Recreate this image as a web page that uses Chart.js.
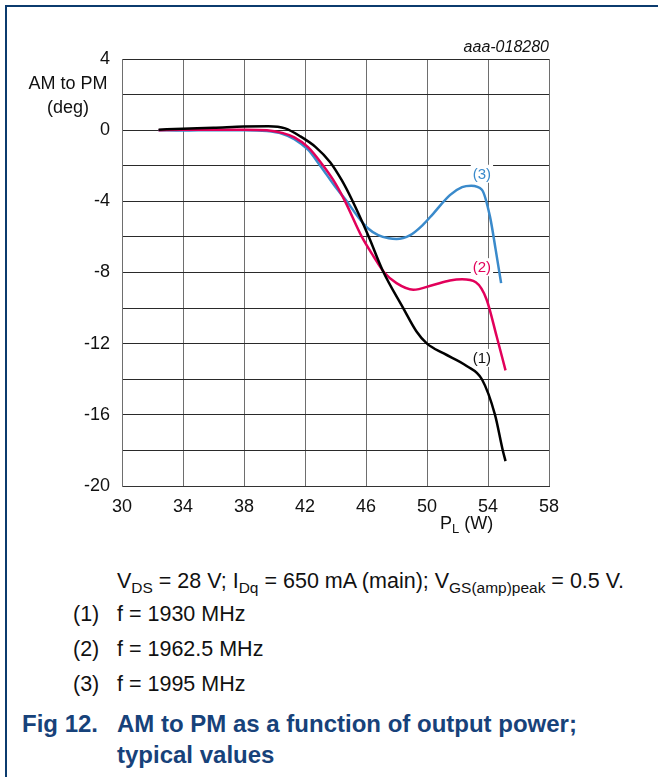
<!DOCTYPE html>
<html>
<head>
<meta charset="utf-8">
<script src="https://cdn.jsdelivr.net/npm/chart.js@4.4.0/dist/chart.umd.min.js"></script>
<style>
  body { margin: 0; background: #fff; font-family: "Liberation Sans", Arial, sans-serif; }
  #page { position: relative; width: 658px; height: 777px; overflow: hidden; }
  #frame { position: absolute; left: 5px; top: 5px; width: 660px; height: 780px; border-left: 2px solid #0b3b6e; border-top: 2px solid #0b3b6e; }
  #chart { position: absolute; left: 0; top: 0; }
  .txt { position: absolute; white-space: nowrap; color: #111; line-height: 1; }
  .sub { font-size: 0.72em; position: relative; top: 0.3em; }
  .cap { font-size: 21.5px; }
  .fig { font-size: 24px; font-weight: bold; color: #17427a; }
</style>
</head>
<body>
<div id="page">
  <div id="frame"></div>
  <canvas id="chart" width="658" height="540"></canvas>
  <div class="txt" style="left:28px; top:74px; width:80px; text-align:center; font-size:18px;">AM to PM</div>
  <div class="txt" style="left:28px; top:98px; width:80px; text-align:center; font-size:18px;">(deg)</div>
  <div class="txt" style="right:109px; top:39px; font-size:16px; font-style:italic;">aaa-018280</div>
  <div class="txt" style="left:440px; top:514px; font-size:18px;">P<span class="sub">L</span> (W)</div>

  <div class="txt cap" style="left:117px; top:571px;">V<span class="sub">DS</span> = 28 V; I<span class="sub">Dq</span> = 650 mA (main); V<span class="sub">GS(amp)peak</span> = 0.5 V.</div>
  <div class="txt cap" style="left:73px; top:604px;">(1)</div>
  <div class="txt cap" style="left:117px; top:604px;">f = 1930 MHz</div>
  <div class="txt cap" style="left:73px; top:639px;">(2)</div>
  <div class="txt cap" style="left:117px; top:639px;">f = 1962.5 MHz</div>
  <div class="txt cap" style="left:73px; top:674px;">(3)</div>
  <div class="txt cap" style="left:117px; top:674px;">f = 1995 MHz</div>
  <div class="txt fig" style="left:22px; top:712px;">Fig 12.</div>
  <div class="txt fig" style="left:117px; top:712px;">AM to PM as a function of output power;</div>
  <div class="txt fig" style="left:117px; top:743px;">typical values</div>
</div>
<script>
// curve (1) f = 1930 MHz
const x1 = [32.4, 34, 36, 38, 39.6, 40.7, 41.7, 42.7, 43.65, 44.4, 45.07, 46.16, 47.1, 48.44, 49.3, 50.0, 51.1, 52.6, 53.6, 54.46, 54.97, 55.15];
const y1 = [0.03, 0.08, 0.13, 0.2, 0.22, 0.1, -0.35, -0.95, -1.8, -2.8, -3.9, -5.95, -7.9, -10.0, -11.3, -12.0, -12.55, -13.25, -14.0, -16.0, -18.0, -18.6];
// curve (2) f = 1962.5 MHz
const x2 = [32.4, 34, 36, 38, 39.5, 40.5, 41.3, 42.2, 43.2, 44.0, 44.63, 45.73, 46.5, 47.2, 48.0, 49.1, 50.4, 51.5, 52.3, 53.2, 53.9, 54.57, 55.15];
const y2 = [0, 0.02, 0.02, 0.03, 0, -0.15, -0.4, -0.95, -2.0, -3.0, -4.0, -6.0, -7.1, -8.0, -8.6, -8.97, -8.7, -8.45, -8.38, -8.55, -9.5, -11.6, -13.5];
// curve (3) f = 1995 MHz
const x3 = [32.4, 34, 36, 38, 39.5, 40.5, 41.3, 42.2, 43.0, 44.0, 44.74, 45.5, 46.1, 46.8, 47.5, 48.0, 48.9, 49.7, 50.4, 51.5, 52.3, 52.9, 53.6, 54.13, 54.5, 54.86];
const y3 = [0, -0.02, 0, 0, -0.05, -0.2, -0.5, -1.1, -2.0, -3.2, -4.0, -4.9, -5.5, -5.9, -6.08, -6.12, -5.9, -5.35, -4.7, -3.65, -3.2, -3.12, -3.35, -4.86, -6.7, -8.6];

const xTicks = [30, 34, 38, 42, 46, 50, 54, 58];
const yTicks = [4, 0, -4, -8, -12, -16, -20];

// curve tags: [text, x, y, colour]
const tags = [
    ['(1)', 53.6, -12.8, '#111111'],
    ['(2)', 53.6, -7.7, '#e2005a'],
    ['(3)', 53.6, -2.45, '#3a8acb']
];

function pts(xs, ys) {
    return xs.map((x, i) => ({ x: x, y: ys[i] }));
}

const tagPlugin = {
    id: 'tags',
    afterDatasetsDraw(chart) {
        const ctx = chart.ctx;
        const sx = chart.scales.x, sy = chart.scales.y;
        ctx.save();
        ctx.font = '15px "Liberation Sans", Arial, sans-serif';
        ctx.textAlign = 'center';
        ctx.textBaseline = 'middle';
        tags.forEach(t => {
            const px = sx.getPixelForValue(t[1]);
            const py = sy.getPixelForValue(t[2]);
            const w = ctx.measureText(t[0]).width + 4;
            ctx.fillStyle = '#fff';
            ctx.fillRect(px - w / 2, py - 9, w, 18);
            ctx.fillStyle = t[3];
            ctx.fillText(t[0], px, py + 1);
        });
        ctx.restore();
    }
};

const lineStyle = { showLine: true, pointRadius: 0, borderWidth: 2.5, cubicInterpolationMode: 'monotone', fill: false };

new Chart(document.getElementById('chart'), {
    type: 'scatter',
    data: {
        datasets: [
            Object.assign({ label: '(1)', data: pts(x1, y1), borderColor: '#000000' }, lineStyle),
            Object.assign({ label: '(2)', data: pts(x2, y2), borderColor: '#e2005a' }, lineStyle),
            Object.assign({ label: '(3)', data: pts(x3, y3), borderColor: '#3a8acb' }, lineStyle)
        ]
    },
    options: {
        responsive: false,
        animation: false,
        devicePixelRatio: 1,
        layout: { padding: { left: 0, top: 59, right: 109, bottom: 14 } },
        plugins: { legend: { display: false }, tooltip: { enabled: false } },
        scales: {
            x: {
                type: 'linear',
                min: 30, max: 58,
                afterFit(scale) { scale.height = 40; },
                afterBuildTicks(scale) { scale.ticks = xTicks.map(v => ({ value: v })); },
                grid: { color: '#6e6e6e', lineWidth: 1, drawTicks: false },
                border: { color: '#333', width: 1 },
                ticks: { color: '#111', padding: 10, maxRotation: 0, font: { family: '"Liberation Sans", Arial, sans-serif', size: 18 } }
            },
            y: {
                type: 'linear',
                min: -20, max: 4,
                afterFit(scale) { scale.width = 122; },
                ticks: {
                    stepSize: 2,
                    color: '#111',
                    padding: 12,
                    font: { family: '"Liberation Sans", Arial, sans-serif', size: 18 },
                    callback: v => yTicks.includes(v) ? String(v) : ''
                },
                grid: { color: '#2a2a2a', lineWidth: 1, drawTicks: false },
                border: { color: '#6e6e6e', width: 1 }
            }
        }
    },
    plugins: [tagPlugin]
});
</script>
</body>
</html>
